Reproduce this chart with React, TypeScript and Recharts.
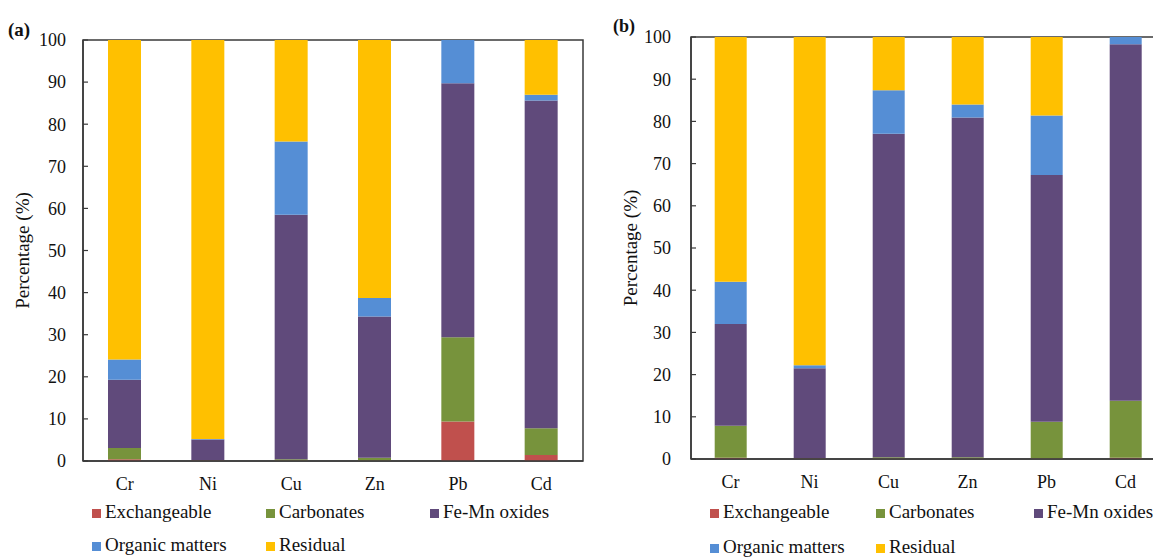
import { Bar, BarChart, ReferenceArea, XAxis, YAxis } from "recharts"

const categories = ["Cr", "Ni", "Cu", "Zn", "Pb", "Cd"]
const yTicks = [0, 10, 20, 30, 40, 50, 60, 70, 80, 90, 100]

// panel (a)
const exchangeableA = [0.4, 0.1, 0.1, 0.1, 9.4, 1.4]
const carbonatesA = [2.7, 0.1, 0.3, 0.7, 20.0, 6.4]
const feMnA = [16.2, 4.9, 58.1, 33.5, 60.3, 77.8]
const organicA = [4.8, 0.1, 17.4, 4.4, 10.3, 1.4]
const residualA = [75.9, 94.8, 24.1, 61.3, 0, 13.0]

// panel (b)
const exchangeableB = [0.3, 0.1, 0.1, 0.1, 0.1, 0.3]
const carbonatesB = [7.6, 0.1, 0.3, 0.3, 8.7, 13.5]
const feMnB = [24.1, 21.3, 76.7, 80.5, 58.5, 84.5]
const organicB = [10.0, 0.7, 10.3, 3.1, 14.1, 1.7]
const residualB = [58.0, 77.8, 12.6, 16.0, 18.6, 0]

const seriesNames = ["Exchangeable", "Carbonates", "Fe-Mn oxides", "Organic matters", "Residual"]
const colors = ["#C0504D", "#77933C", "#604A7B", "#558ED5", "#FFC000"]
const keys = ["exch", "carb", "femn", "org", "res"]

const FONT = "'Liberation Serif', 'Times New Roman', serif"
const AXIS = "#3a3a3a"

function buildRows(cols: number[][]) {
  return categories.map((name, i) => {
    const row: Record<string, any> = { name }
    keys.forEach((k, j) => {
      row[k] = cols[j][i]
    })
    return row
  })
}

const dataA = buildRows([exchangeableA, carbonatesA, feMnA, organicA, residualA])
const dataB = buildRows([exchangeableB, carbonatesB, feMnB, organicB, residualB])

const yTick = (axisX: number, gap: number) => (props: any) => {
  const { y, payload } = props
  return (
    <g>
      <line x1={axisX} x2={axisX + 5} y1={y} y2={y} stroke={AXIS} strokeWidth={1.2} />
      <text x={axisX - gap} y={y} dy="0.35em" textAnchor="end" fontSize={18} fontFamily={FONT} fill="#111">
        {payload.value}
      </text>
    </g>
  )
}

type PanelProps = {
  data: any[]
  left: number
  margin: { top: number; right: number; bottom: number; left: number }
  yWidth: number
  tickGap: number
  labelX: number
}

function Panel({ data, left, margin, yWidth, tickGap, labelX }: PanelProps) {
  return (
    <div style={{ position: "absolute", left, top: 0 }}>
      <BarChart width={600} height={559} data={data} margin={margin} barCategoryGap="30%">
        <XAxis
          dataKey="name"
          axisLine={{ stroke: AXIS, strokeWidth: 1.5 }}
          tickLine={false}
          tickSize={0}
          tickMargin={16}
          height={30}
          tick={{ fontSize: 18, fontFamily: FONT, fill: "#111" }}
        />
        <YAxis
          domain={[0, 100]}
          ticks={yTicks}
          width={yWidth}
          axisLine={{ stroke: AXIS, strokeWidth: 1.5 }}
          tickLine={false}
          tick={yTick(yWidth + margin.left, tickGap)}
          label={{
            value: "Percentage (%)",
            angle: -90,
            position: "insideLeft",
            offset: labelX,
            fill: "#111",
            style: { textAnchor: "middle", fontSize: 19, fontFamily: FONT },
          }}
        />
        {keys.map((k, j) => (
          <Bar key={k} dataKey={k} name={seriesNames[j]} stackId="s" fill={colors[j]} isAnimationActive={false} />
        ))}
        <ReferenceArea y1={0} y2={100} fill="none" stroke={AXIS} strokeWidth={1.5} fillOpacity={0} />
      </BarChart>
    </div>
  )
}

function LegendItems({ rows }: { rows: { x: number; y: number; i: number }[] }) {
  return (
    <>
      {rows.map(({ x, y, i }) => (
        <g key={`${x}-${y}`}>
          <rect x={x - 13} y={y - 9} width={9} height={9} fill={colors[i]} />
          <text x={x} y={y} fontSize={19} fontFamily={FONT} fill="#111">
            {seriesNames[i]}
          </text>
        </g>
      ))}
    </>
  )
}

export default function App() {
  return (
    <div style={{ position: "absolute", left: 0, top: 0, width: 1153, height: 559, overflow: "hidden", background: "#fff" }}>
      <Panel data={dataA} left={0} margin={{ top: 40, right: 17, bottom: 68, left: 0 }} yWidth={83} tickGap={17} labelX={22} />
      <Panel data={dataB} left={600} margin={{ top: 37, right: 35, bottom: 70, left: 0 }} yWidth={91} tickGap={20} labelX={30} />
      <svg width={1153} height={559} style={{ position: "absolute", left: 0, top: 0, pointerEvents: "none" }}>
        <text x={8} y={36} fontSize={19} fontWeight="bold" fontFamily={FONT} fill="#111">(a)</text>
        <text x={613} y={32} fontSize={18} fontWeight="bold" fontFamily={FONT} fill="#111">(b)</text>
        <LegendItems
          rows={[
            { x: 105, y: 518, i: 0 },
            { x: 279, y: 518, i: 1 },
            { x: 443, y: 518, i: 2 },
            { x: 105, y: 551, i: 3 },
            { x: 279, y: 551, i: 4 },
          ]}
        />
        <LegendItems
          rows={[
            { x: 723, y: 518, i: 0 },
            { x: 889, y: 518, i: 1 },
            { x: 1047, y: 518, i: 2 },
            { x: 723, y: 553, i: 3 },
            { x: 889, y: 553, i: 4 },
          ]}
        />
      </svg>
    </div>
  )
}
